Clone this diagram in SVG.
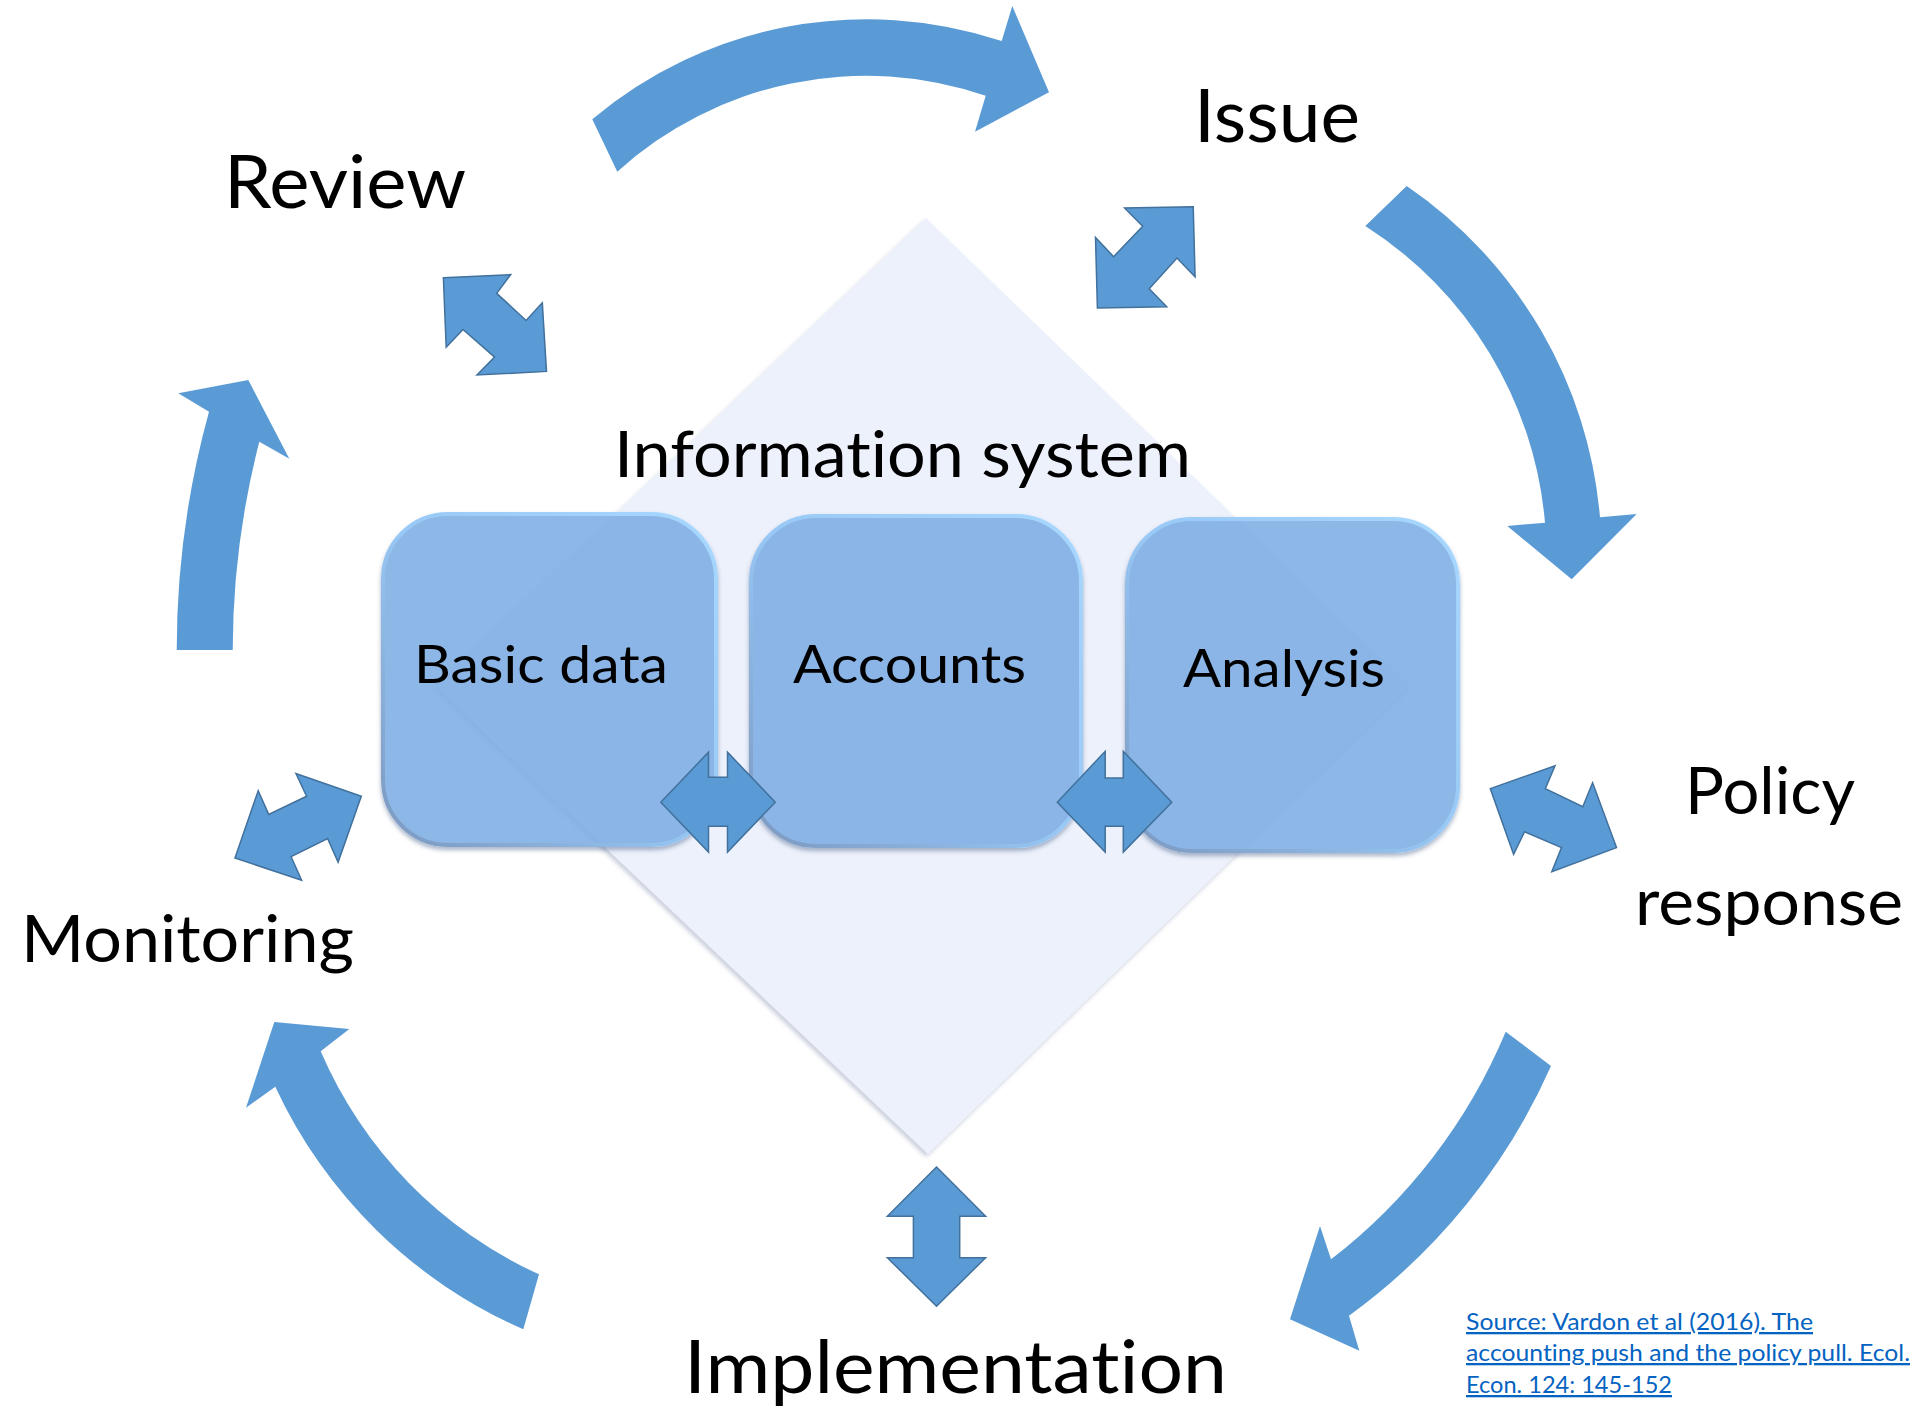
<svg xmlns="http://www.w3.org/2000/svg" width="1915" height="1412" viewBox="0 0 1915 1412">
<style>
.lbl{font-family:Lato,"Liberation Sans",sans-serif;fill:#000;font-variant-ligatures:none}
.arrow{fill:#5B9BD5}
.dbl{fill:#5B9BD5;stroke:#41719C;stroke-width:1.5;stroke-linejoin:miter}
.box{fill:#7EAEE4;fill-opacity:.88;stroke:url(#rim);stroke-width:4;filter:url(#bsh)}
.src{font-family:Lato,"Liberation Sans",sans-serif;fill:#0563C1;text-decoration:underline;font-size:23px;font-variant-ligatures:none}
</style>
<defs>
<linearGradient id="rim" x1="1" y1="0" x2="0" y2="1">
<stop offset="0" stop-color="#A8D8FF"/>
<stop offset="0.5" stop-color="#98C8F5"/>
<stop offset="1" stop-color="#7C98BF"/>
</linearGradient>
<filter id="bsh" x="-10%" y="-10%" width="120%" height="125%">
<feGaussianBlur in="SourceAlpha" stdDeviation="2" result="b"/>
<feOffset in="b" dy="3" result="o"/>
<feFlood flood-color="#50698F" flood-opacity="0.5" result="f"/>
<feComposite in="f" in2="o" operator="in" result="s"/>
<feComposite in="s" in2="SourceAlpha" operator="out" result="so"/>
<feMerge><feMergeNode in="so"/><feMergeNode in="SourceGraphic"/></feMerge>
</filter>
<filter id="dsh" x="-5%" y="-5%" width="110%" height="110%">
<feDropShadow dx="-2" dy="3" stdDeviation="2" flood-color="#8C96B4" flood-opacity="0.45"/>
</filter>
</defs>
<rect width="1915" height="1412" fill="#fff"/>

<g id="information-system">
<polygon points="926,218 1410,686 928,1154 435,686" fill="#EDF1FB" filter="url(#dsh)"/>
<text class="lbl" x="614" y="477" font-size="64" textLength="577" lengthAdjust="spacingAndGlyphs">Information system</text>
</g>

<g id="basic-data">
<rect class="box" x="383" y="514" width="333" height="331" rx="65" ry="65"/>
<text class="lbl" x="414" y="683" font-size="53" textLength="254" lengthAdjust="spacingAndGlyphs">Basic data</text>
</g>
<g id="accounts">
<rect class="box" x="751" y="516" width="330" height="330" rx="65" ry="65"/>
<text class="lbl" x="793" y="683" font-size="53" textLength="233" lengthAdjust="spacingAndGlyphs">Accounts</text>
</g>
<g id="analysis">
<rect class="box" x="1127" y="519" width="331" height="332" rx="65" ry="65"/>
<text class="lbl" x="1183" y="687" font-size="53" textLength="202" lengthAdjust="spacingAndGlyphs">Analysis</text>
</g>

<g id="review"><text class="lbl" x="224" y="208" font-size="73" textLength="242" lengthAdjust="spacingAndGlyphs">Review</text></g>
<g id="issue"><text class="lbl" x="1194" y="142" font-size="74" textLength="166" lengthAdjust="spacingAndGlyphs">Issue</text></g>
<g id="policy-response">
<text class="lbl" x="1685" y="814" font-size="65" textLength="170" lengthAdjust="spacingAndGlyphs">Policy</text>
<text class="lbl" x="1635" y="925" font-size="65" textLength="268" lengthAdjust="spacingAndGlyphs">response</text>
</g>
<g id="implementation"><text class="lbl" x="684" y="1393" font-size="74" textLength="543" lengthAdjust="spacingAndGlyphs">Implementation</text></g>
<g id="monitoring"><text class="lbl" x="21" y="962" font-size="65" textLength="333" lengthAdjust="spacingAndGlyphs">Monitoring</text></g>

<g id="source">
<text class="src" x="1466" y="1330" textLength="347" lengthAdjust="spacingAndGlyphs">Source: Vardon et al (2016). The</text>
<text class="src" x="1466" y="1361" textLength="444" lengthAdjust="spacingAndGlyphs">accounting push and the policy pull. Ecol.</text>
<text class="src" x="1466" y="1393" textLength="206" lengthAdjust="spacingAndGlyphs">Econ. 124: 145-152</text>
</g>

<g id="connectors">
<path class="arrow" d="M592.3,119.3 A427,427 0 0 1 1001.7,41 L1012.3,6 L1049,92.3 L975,131.7 L985.7,95.7 A370,370 0 0 0 617.3,171.7 Z"/>
<path class="arrow" d="M1406.7,186 A447,447 0 0 1 1600,517.3 L1636.7,514 L1571.7,579.3 L1507.3,526 L1545,522.7 A392,392 0 0 0 1365.3,226 Z"/>
<path class="arrow" d="M1551,1066 A616,616 0 0 1 1349,1315.7 L1359.3,1350.7 L1290,1319.3 L1320,1226 L1331,1259.3 A560,560 0 0 0 1505.7,1031.7 Z"/>
<path class="arrow" d="M523.3,1329.3 A489,489 0 0 1 275.3,1086.7 L246,1107.7 L274.3,1022 L349.3,1029 L320.7,1051.3 A433,433 0 0 0 539,1274.3 Z"/>
<path class="arrow" d="M176.7,650 A895,895 0 0 1 209,411.7 L178.3,393.3 L248.3,380 L289.3,458.7 L259.3,441.7 A839,839 0 0 0 232.7,650 Z"/>

<polygon class="dbl" points="443.4,277.7 510.7,274.6 496.7,293.3 526.1,320.5 542.3,302.7 546.5,371.4 477,375 494.6,357.1 463,329.5 446.2,347.3"/>
<polygon class="dbl" points="1193.2,206.7 1195.1,276.8 1177,258 1149.2,288.8 1166.7,306.7 1097.4,308 1095.5,237.5 1113.6,256.7 1142.7,226.3 1124.6,208"/>
<polygon class="dbl" points="361.3,796.3 338.1,862.1 327.6,838.5 291.1,856.7 301.6,880.3 235,858 258.2,790.8 268.7,814.4 306.6,796.3 296,773.6"/>
<polygon class="dbl" points="1490.3,788.6 1555,765.8 1545.3,788.6 1582.8,806.7 1592.6,782.7 1616.5,847.6 1551.8,871.7 1561.5,847.6 1524.6,831.7 1513.6,854.4"/>
<polygon class="dbl" points="936.5,1167 985.6,1216.3 959.7,1216.3 959.7,1257.7 985.6,1257.7 936.5,1306.3 887.4,1257.7 913.4,1257.7 913.4,1216.3 887.4,1216.3"/>
<polygon class="dbl" points="660.8,802.2 708.5,752.2 708.5,777.2 727.5,777.2 727.5,752.2 775.2,802.2 727.5,852.1 727.5,826.2 708.5,826.2 708.5,852.1"/>
<polygon class="dbl" points="1057.3,802.2 1105.2,751.3 1105.2,778.1 1123.3,778.1 1123.3,751.3 1171.8,802.2 1123.3,852.1 1123.3,826.2 1105.2,826.2 1105.2,852.1"/>
</g>
</svg>
